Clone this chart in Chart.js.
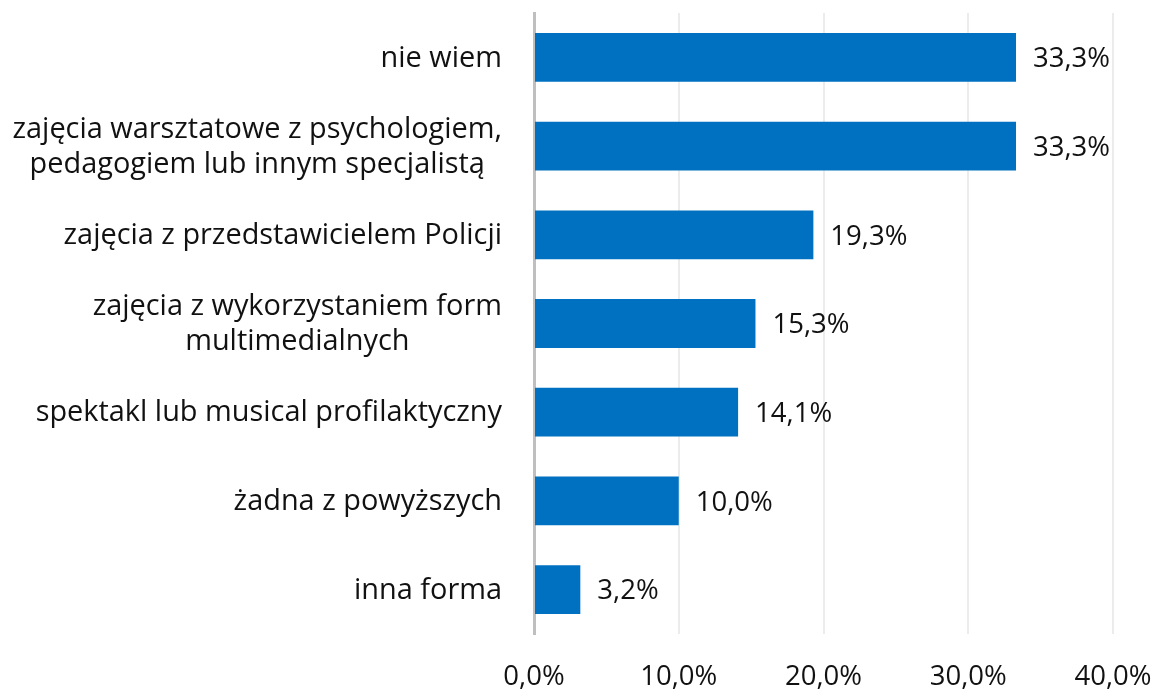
<!DOCTYPE html>
<html>
<head>
<meta charset="utf-8">
<script src="https://cdn.jsdelivr.net/npm/chart.js@4"></script>
<style>
  html, body { margin: 0; padding: 0; background: #fff; }
  #wrap { width: 1158px; height: 691px; position: relative; }
</style>
</head>
<body>
<div id="wrap"><canvas id="c" width="1158" height="691"></canvas></div>
<script>
const categories = [
  "nie wiem",
  ["zajęcia warsztatowe z psychologiem,", "pedagogiem lub innym specjalistą"],
  "zajęcia z przedstawicielem Policji",
  ["zajęcia z wykorzystaniem form", "multimedialnych"],
  "spektakl lub musical profilaktyczny",
  "żadna z powyższych",
  "inna forma"
];
const values = [33.3, 33.3, 19.3, 15.3, 14.1, 10.0, 3.2];
const xTicks = [0, 10, 20, 30, 40];

const FONT = "'Open Sans', 'Noto Sans', sans-serif";
const CAT_SIZE = 28.9;
const NUM_SIZE = 27.5;
const TEXT = '#111111';
const fmt = v => v.toFixed(1).replace('.', ',') + '%';

const labelsPlugin = {
  id: 'labelsPlugin',
  afterDraw(chart) {
    const ctx = chart.ctx;
    const meta = chart.getDatasetMeta(0);
    const yScale = chart.scales.y;
    ctx.save();
    ctx.fillStyle = TEXT;
    ctx.textBaseline = 'middle';
    // value labels
    ctx.font = NUM_SIZE + 'px ' + FONT;
    ctx.textAlign = 'left';
    meta.data.forEach((bar, i) => {
      ctx.fillText(fmt(values[i]), bar.x + 17, bar.y + 2);
    });
    // category labels, lines centered within a right-aligned block
    ctx.font = CAT_SIZE + 'px ' + FONT;
    ctx.textAlign = 'center';
    const rightEdge = yScale.right - 32;
    const lh = 35;
    categories.forEach((cat, i) => {
      const lines = Array.isArray(cat) ? cat : [cat];
      const maxW = Math.max(...lines.map(l => ctx.measureText(l).width));
      const cx = rightEdge - maxW / 2;
      const cy = yScale.getPixelForValue(i);
      const y0 = cy - (lines.length - 1) * lh / 2;
      lines.forEach((l, k) => ctx.fillText(l, cx, y0 + k * lh + 1));
    });
    ctx.restore();
  }
};

new Chart(document.getElementById('c'), {
  type: 'bar',
  data: {
    labels: categories,
    datasets: [{
      data: values,
      backgroundColor: '#0070C0',
      borderWidth: 0,
      barPercentage: 0.55,
      categoryPercentage: 1.0
    }]
  },
  options: {
    indexAxis: 'y',
    responsive: false,
    animation: false,
    devicePixelRatio: 1,
    layout: { padding: { top: 13, right: 45, left: 0, bottom: 0 } },
    plugins: { legend: { display: false }, tooltip: { enabled: false } },
    scales: {
      x: {
        min: 0, max: 40,
        afterBuildTicks(scale) { scale.ticks = xTicks.map(v => ({ value: v })); },
        afterFit(scale) {
          scale.height = 57;
          scale.paddingLeft = 0;
          scale.paddingRight = 0;
        },
        grid: { color: '#ECECEC', lineWidth: 2, drawTicks: false },
        border: { display: false },
        ticks: {
          padding: 27,
          color: TEXT,
          font: { family: FONT, size: NUM_SIZE },
          callback: v => fmt(v),
          maxRotation: 0
        }
      },
      y: {
        afterFit(scale) { scale.width = 534; },
        grid: { display: false, drawTicks: false },
        border: { display: true, color: '#BFBFBF', width: 3 },
        ticks: { display: false }
      }
    }
  },
  plugins: [labelsPlugin]
});
</script>
</body>
</html>
